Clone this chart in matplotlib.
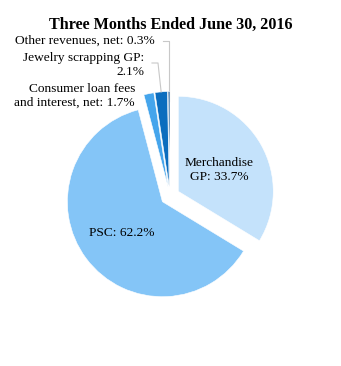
import matplotlib
matplotlib.use("Agg")
import matplotlib.pyplot as plt
import numpy as np

title = "Three Months Ended June 30, 2016"
categories = ["Merchandise GP", "PSC", "Consumer loan fees and interest, net",
              "Jewelry scrapping GP", "Other revenues, net"]
shares = [33.7, 62.2, 1.7, 2.1, 0.3]
colors = ["#C4E2FB", "#84C5F7", "#45A5EC", "#0B6DBE", "#0A4F90"]

plt.rcParams["font.family"] = ["Liberation Serif", "DejaVu Serif"]

W, H = 341, 366
fig = plt.figure(figsize=(W / 100, H / 100), dpi=100)
ax = fig.add_axes([0, 0, 1, 1])

# pie centre in pixels and radius in pixels -> set data limits so 1 unit = radius
cx, cy, R = 170, 196, 95
xlim = (-cx / R, (W - cx) / R)
ylim = ((cy - H) / R, cy / R)

wedges, _ = ax.pie(shares, colors=colors, startangle=90, counterclock=False,
                   explode=[0.1] * len(shares), radius=1.0,
                   wedgeprops=dict(edgecolor="white", linewidth=0.4))
ax.set_xlim(*xlim)
ax.set_ylim(*ylim)
ax.set_aspect("equal")
ax.axis("off")


def px(x, y):
    return ((x - cx) / R, (cy - y) / R)


def wedge_point(w, r=1.0):
    ang = np.deg2rad((w.theta1 + w.theta2) / 2)
    c = w.center
    return (c[0] + r * w.r * np.cos(ang), c[1] + r * w.r * np.sin(ang))


fs = 9.6
# inner labels
ax.text(*px(219, 170), "Merchandise\nGP: %.1f%%" % shares[0], ha="center",
        va="center", fontsize=fs, linespacing=1.2)
ax.text(*px(122, 233), "PSC: %.1f%%" % shares[1], ha="center", va="center",
        fontsize=fs)

# outer labels
ax.text(*px(135, 96), "Consumer loan fees\nand interest, net: %.1f%%" % shares[2],
        ha="right", va="center", fontsize=fs, linespacing=1.2)
ax.text(*px(144, 65), "Jewelry scrapping GP:\n%.1f%%" % shares[3],
        ha="right", va="center", fontsize=fs, linespacing=1.2)
ax.text(*px(155, 41), "Other revenues, net: %.1f%%" % shares[4],
        ha="right", va="center", fontsize=fs)

lc = "#C8C8C8"
# leader for jewelry scrapping
jx, jy = wedge_point(wedges[3], 1.0)
ax.plot([px(152, 63)[0], px(158, 63)[0], jx], [px(152, 63)[1], px(158, 63)[1], jy],
        color=lc, lw=0.8)
# leader for other revenues
ox, oy = wedge_point(wedges[4], 0.9)
ax.plot([px(163, 41)[0], ox, ox], [px(163, 41)[1], px(163, 41)[1], oy],
        color=lc, lw=0.8, zorder=0.5)

fig.text(0.5, 1 - 25 / H, title, ha="center", va="center", fontsize=11.6,
         fontweight="bold")

fig.savefig("out.png", dpi=100)
